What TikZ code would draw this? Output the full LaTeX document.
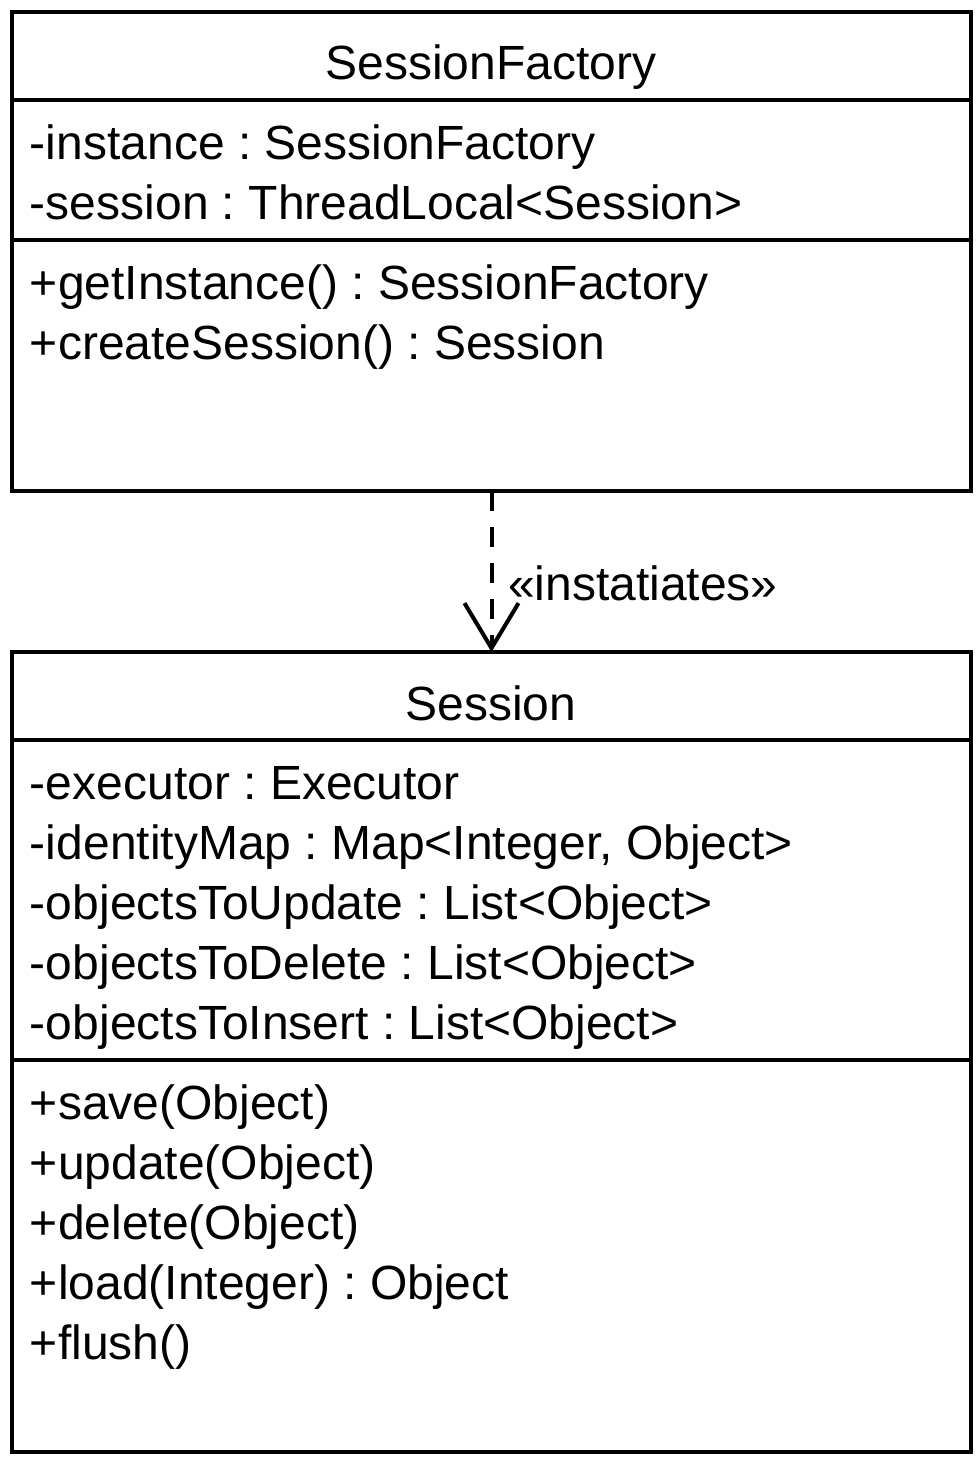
\documentclass[tikz,border=0pt]{standalone}
\usepackage{fontspec}
\setmainfont{Liberation Sans}
\usetikzlibrary{arrows.meta}
\frenchspacing
\begin{document}
\begin{tikzpicture}[x=1pt,y=-1pt,
  every node/.style={font=\fontsize{48}{60}\selectfont, inner sep=0pt, outer sep=0pt},
  classbox/.style={draw, line width=3.5pt, minimum width=959pt, anchor=north west},
  divider/.style={line width=3.5pt},
  member/.style={anchor=base west},
  titletext/.style={anchor=base},
  dep/.style={line width=4pt, dash pattern=on 20pt off 16pt,
    -{Straight Barb[length=45pt, width=54pt, line width=4pt]}}
]
\useasboundingbox (0,0) rectangle (980,1460);
% SessionFactory
\node[classbox, minimum height=479pt] (sf) at (12,12) {};
\node[titletext] (sft) at (491,79) {SessionFactory};
\draw[divider] (12,100) coordinate (sfd1a) -- (971,100) coordinate (sfd1b);
\draw[divider] (12,240) coordinate (sfd2a) -- (971,240) coordinate (sfd2b);
\node[member] (a1) at (30,159) {-instance : SessionFactory};
\node[member] (a2) at (30,219) {-session : ThreadLocal<Session>};
\node[member] (m1) at (30,299) {+getInstance() : SessionFactory};
\node[member] (m2) at (30,359) {+createSession() : Session};
% Session
\node[classbox, minimum height=800pt] (s) at (12,652) {};
\node[titletext] (st) at (491,720) {Session};
\draw[divider] (12,740) coordinate (sd1a) -- (971,740) coordinate (sd1b);
\draw[divider] (12,1060) coordinate (sd2a) -- (971,1060) coordinate (sd2b);
\node[member] (b1) at (30,799) {-executor : Executor};
\node[member] (b2) at (30,859) {-identityMap : Map<Integer, Object>};
\node[member] (b3) at (30,919) {-objectsToUpdate : List<Object>};
\node[member] (b4) at (30,979) {-objectsToDelete : List<Object>};
\node[member] (b5) at (30,1039) {-objectsToInsert : List<Object>};
\node[member] (c1) at (30,1119) {+save(Object)};
\node[member] (c2) at (30,1179) {+update(Object)};
\node[member] (c3) at (30,1239) {+delete(Object)};
\node[member] (c4) at (30,1299) {+load(Integer) : Object};
\node[member] (c5) at (30,1359) {+flush()};
% dependency
\draw[dep] (sf.south) -- (s.north);
\node[member] (lbl) at (508,600) {«instatiates»};
\end{tikzpicture}
\end{document}
